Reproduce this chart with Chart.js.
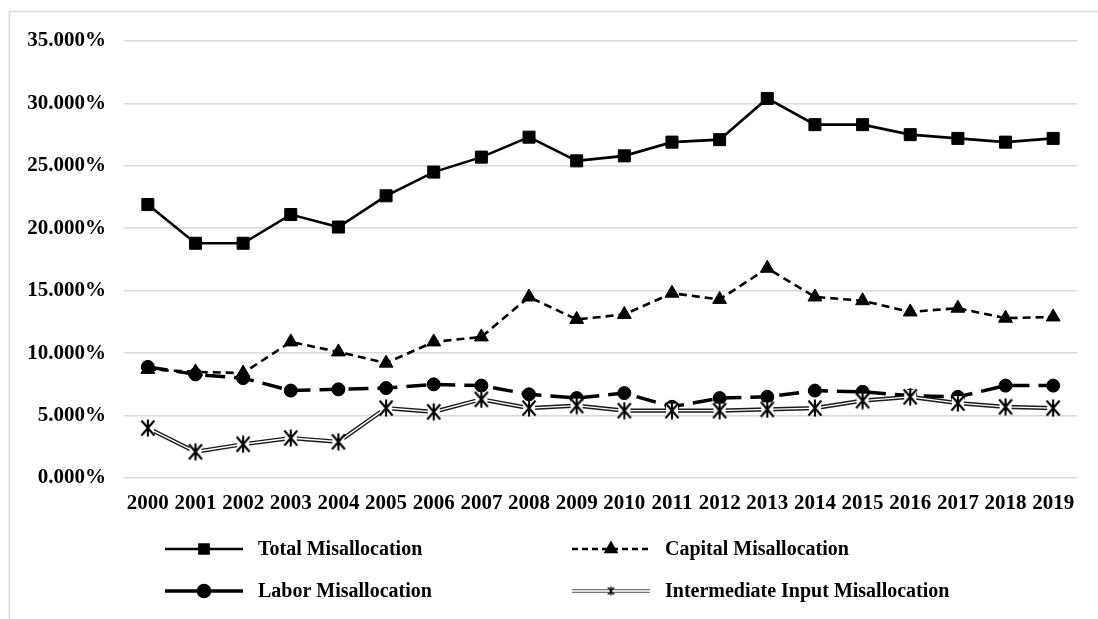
<!DOCTYPE html>
<html>
<head>
<meta charset="utf-8">
<script src="https://cdn.jsdelivr.net/npm/chart.js@4/dist/chart.umd.min.js"></script>
<style>
  html, body { margin: 0; padding: 0; background: #fff; }
  #wrap { width: 1098px; height: 619px; position: relative; }
</style>
</head>
<body>
<div id="wrap"><canvas id="c" width="1098" height="619"></canvas></div>
<script>
// Years on the category axis
const years = ['2000','2001','2002','2003','2004','2005','2006','2007','2008','2009',
               '2010','2011','2012','2013','2014','2015','2016','2017','2018','2019'];

// Misallocation series, in percent
const totalMis        = [21.9, 18.8, 18.8, 21.1, 20.1, 22.6, 24.5, 25.7, 27.3, 25.4,
                         25.8, 26.9, 27.1, 30.4, 28.3, 28.3, 27.5, 27.2, 26.9, 27.2];
const capitalMis      = [8.7, 8.5, 8.4, 10.9, 10.1, 9.2, 10.9, 11.3, 14.5, 12.7,
                         13.1, 14.8, 14.3, 16.8, 14.5, 14.2, 13.3, 13.6, 12.8, 12.9];
const laborMis        = [8.9, 8.3, 8.0, 7.0, 7.1, 7.2, 7.5, 7.4, 6.7, 6.4,
                         6.8, 5.7, 6.4, 6.5, 7.0, 6.9, 6.6, 6.5, 7.4, 7.4];
const intermediateMis = [4.0, 2.1, 2.7, 3.2, 2.9, 5.6, 5.3, 6.3, 5.6, 5.8,
                         5.4, 5.4, 5.4, 5.5, 5.6, 6.2, 6.5, 6.0, 5.7, 5.6];

// Series names
const seriesNames = ['Total Misallocation', 'Capital Misallocation',
                     'Labor Misallocation', 'Intermediate Input Misallocation'];

// Value axis range and step (percent)
const yMin = 0, yMax = 35, yStep = 5;

const FONT = "'Liberation Serif', 'Times New Roman', serif";

// Asterisk-style marker (cross with a vertical bar) drawn on a small canvas
function makeAsterisk(w, h, lw) {
  const c = document.createElement('canvas');
  c.width = w; c.height = h;
  const g = c.getContext('2d');
  g.fillStyle = '#fff';
  g.fillRect(2, 2, w - 4, h - 4);
  g.strokeStyle = '#000';
  g.lineWidth = lw;
  g.lineCap = 'butt';
  g.beginPath();
  g.moveTo(1.5, 1.5); g.lineTo(w - 1.5, h - 1.5);
  g.moveTo(w - 1.5, 1.5); g.lineTo(1.5, h - 1.5);
  g.moveTo(w / 2, 0.5); g.lineTo(w / 2, h - 0.5);
  g.stroke();
  return c;
}
const asteriskBig = makeAsterisk(16, 18, 2.1);
const asteriskSmall = makeAsterisk(9, 10, 1.4);

// Outer frame of the chart area (light grey)
const framePlugin = {
  id: 'frame',
  beforeDraw(chart) {
    const ctx = chart.ctx;
    ctx.save();
    ctx.strokeStyle = '#d9d9d9';
    ctx.lineWidth = 1.5;
    ctx.beginPath();
    ctx.moveTo(9.5, 640);
    ctx.lineTo(9.5, 11.5);
    ctx.lineTo(1110, 11.5);
    ctx.stroke();
    ctx.restore();
  }
};

// Two-column legend drawn below the plot
const legendItems = [
  { name: seriesNames[0], col: 0, row: 0, line: { color: '#000', width: 2.5, dash: [] },
    marker: { style: 'rect', radius: 6.5 } },
  { name: seriesNames[1], col: 1, row: 0, line: { color: '#000', width: 2.5, dash: [6, 4] },
    marker: { style: 'triangle', radius: 6 } },
  { name: seriesNames[2], col: 0, row: 1, line: { color: '#000', width: 3.5, dash: [] },
    marker: { style: 'circle', radius: 5.5 } },
  { name: seriesNames[3], col: 1, row: 1, line: { color: '#777', width: 4, dash: [], inner: true },
    marker: { style: asteriskSmall, radius: 5 } }
];
const legendPlugin = {
  id: 'twoColLegend',
  afterDraw(chart) {
    const ctx = chart.ctx;
    const colX = [165, 572];
    const rowY = [549, 591];
    const sampleLen = 78;
    ctx.save();
    legendItems.forEach(it => {
      const x0 = colX[it.col], y = rowY[it.row];
      const x1 = x0 + sampleLen;
      ctx.strokeStyle = it.line.color;
      ctx.lineWidth = it.line.width;
      ctx.setLineDash(it.line.dash);
      ctx.beginPath(); ctx.moveTo(x0, y); ctx.lineTo(x1, y); ctx.stroke();
      if (it.line.inner) {
        ctx.strokeStyle = '#fff';
        ctx.lineWidth = 1.3;
        ctx.beginPath(); ctx.moveTo(x0, y); ctx.lineTo(x1, y); ctx.stroke();
      }
      ctx.setLineDash([]);
      ctx.fillStyle = '#000';
      ctx.strokeStyle = '#000';
      Chart.helpers.drawPoint(ctx, {
        pointStyle: it.marker.style, radius: it.marker.radius, rotation: 0, borderWidth: 1
      }, (x0 + x1) / 2, y);
      ctx.fillStyle = '#000';
      ctx.font = "bold 20px " + FONT;
      ctx.textAlign = 'left';
      ctx.textBaseline = 'middle';
      ctx.fillText(it.name, x1 + 15, y + 1);
    });
    ctx.restore();
  }
};

const datasets = [
  {
    label: seriesNames[0], data: totalMis, order: 3,
    borderColor: '#000', backgroundColor: '#000', borderWidth: 2.6,
    pointStyle: 'rect', pointRadius: 8.5, pointBorderWidth: 1,
    pointBackgroundColor: '#000', pointBorderColor: '#000'
  },
  {
    label: seriesNames[1], data: capitalMis, order: 2,
    borderColor: '#000', backgroundColor: '#000', borderWidth: 2.6, borderDash: [8, 5],
    pointStyle: 'triangle', pointRadius: 8, pointBorderWidth: 1,
    pointBackgroundColor: '#000', pointBorderColor: '#000'
  },
  {
    label: seriesNames[2], data: laborMis, order: 1,
    borderColor: '#000', backgroundColor: '#000', borderWidth: 3.5, borderDash: [20, 9],
    pointStyle: 'circle', pointRadius: 6.5, pointBorderWidth: 1,
    pointBackgroundColor: '#000', pointBorderColor: '#000'
  },
  // Intermediate input: double line (dark outer stroke, white core) plus markers
  {
    label: seriesNames[3], data: intermediateMis, order: 0.3,
    borderColor: '#1a1a1a', borderWidth: 4.2, pointRadius: 0
  },
  {
    label: seriesNames[3] + ' core', data: intermediateMis, order: 0.2,
    borderColor: '#fff', borderWidth: 1.4, pointRadius: 0
  },
  {
    label: seriesNames[3] + ' markers', data: intermediateMis, order: 0.1,
    showLine: false, pointStyle: asteriskBig, pointRadius: 8
  }
];

new Chart(document.getElementById('c'), {
  type: 'line',
  data: { labels: years, datasets },
  options: {
    responsive: false,
    animation: false,
    events: [],
    elements: { line: { tension: 0 } },
    layout: { padding: { left: 0, top: 41, right: 21, bottom: 0 } },
    plugins: { legend: { display: false }, tooltip: { enabled: false } },
    scales: {
      x: {
        type: 'category',
        offset: true,
        grid: { display: false, drawTicks: false },
        border: { display: false },
        ticks: {
          autoSkip: false, maxRotation: 0, minRotation: 0,
          padding: 13, color: '#000',
          font: { family: FONT, size: 21, weight: 'bold' }
        },
        afterFit(scale) { scale.height = 141; }
      },
      y: {
        min: yMin, max: yMax,
        grid: { color: '#d9d9d9', lineWidth: 1.6, drawTicks: false },
        border: { display: false },
        ticks: {
          stepSize: yStep, padding: 18, color: '#000',
          font: { family: FONT, size: 21, weight: 'bold' },
          callback: v => v.toFixed(3) + '%'
        },
        afterFit(scale) { scale.width = 124; }
      }
    }
  },
  plugins: [framePlugin, legendPlugin]
});
</script>
</body>
</html>
